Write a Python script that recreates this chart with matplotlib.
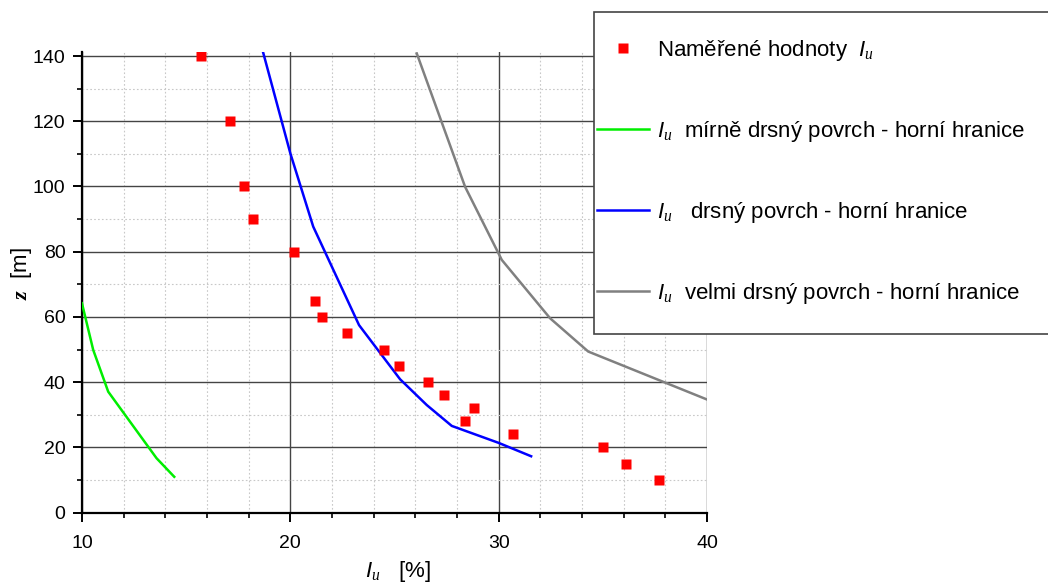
import numpy as np
import matplotlib
matplotlib.use('Agg')
import matplotlib.pyplot as plt
from matplotlib.ticker import MultipleLocator
from matplotlib.patches import Rectangle

plt.rcParams['font.family'] = ['Liberation Sans', 'DejaVu Sans']
plt.rcParams['mathtext.fontset'] = 'custom'
plt.rcParams['mathtext.rm'] = 'Liberation Sans'
plt.rcParams['mathtext.sf'] = 'Liberation Sans:italic'
plt.rcParams['mathtext.it'] = 'Liberation Serif:italic'
plt.rcParams['mathtext.bf'] = 'Liberation Serif:bold:italic'

# measured values
meas_iu = [15.7, 17.1, 17.8, 18.2, 20.2, 21.2, 21.5, 22.7, 24.5, 25.2, 26.6, 27.4, 28.4, 28.8, 30.7, 35.0, 36.1, 37.7]
meas_z = [140, 120, 100, 90, 80, 65, 60, 55, 50, 45, 40, 36, 28, 32, 24, 20, 15, 10]

# upper bounds
mild_iu = [10.0, 10.54, 11.26, 13.58, 14.43]
mild_z = [64.2, 49.9, 37.1, 16.7, 11.0]

rough_iu = [18.7, 20.0, 21.1, 23.3, 25.27, 26.55, 27.75, 30.0, 31.56]
rough_z = [141, 110.2, 87.7, 57.5, 40.9, 33.0, 26.6, 21.4, 17.3]

vrough_iu = [26.07, 28.39, 30.15, 32.47, 34.3, 40.0]
vrough_z = [140.8, 99.9, 77.5, 59.6, 49.4, 34.7]

IU = r'$\mathsf{I}_{u}$'
labels = ['Naměřené hodnoty  ' + IU,
          IU + '  mírně drsný povrch - horní hranice',
          IU + '   drsný povrch - horní hranice',
          IU + '  velmi drsný povrch - horní hranice']

fig = plt.figure(figsize=(10.48, 5.82), dpi=100)
ax = fig.add_axes([0.0782, 0.1191, 0.5964, 0.7914])

p0, = ax.plot(meas_iu, meas_z, 's', color='#ff0000', ms=7.5, mec='none', zorder=4)
p1, = ax.plot(mild_iu, mild_z, color='#00ee00', lw=1.8, zorder=3)
p2, = ax.plot(rough_iu, rough_z, color='#0000ff', lw=1.8, zorder=3)
p3, = ax.plot(vrough_iu, vrough_z, color='#808080', lw=1.8, zorder=3)

ax.set_xlim(10, 40)
ax.set_ylim(0, 141.2)
ax.xaxis.set_major_locator(MultipleLocator(10))
ax.xaxis.set_minor_locator(MultipleLocator(2))
ax.yaxis.set_major_locator(MultipleLocator(20))
ax.yaxis.set_minor_locator(MultipleLocator(10))
ax.set_yticks(np.arange(0, 141, 20))

ax.grid(which='major', color='#444444', lw=1.0, ls='-')
ax.grid(which='minor', color='#c8c8c8', lw=0.8, ls=(0, (1.5, 2)))
ax.set_axisbelow(True)

for s in ['top', 'right']:
    ax.spines[s].set_visible(False)
for s in ['left', 'bottom']:
    ax.spines[s].set_linewidth(1.6)
    ax.spines[s].set_color('black')

ax.tick_params(which='major', length=6.8, width=1.4, labelsize=14)
ax.tick_params(axis='x', which='major', pad=9)
ax.tick_params(axis='y', which='major', pad=5)
ax.tick_params(which='minor', length=3.6, width=1.2)

ax.set_xlabel(IU + '   [%]', fontsize=16)
ax.xaxis.set_label_coords(0.505, -0.1)
ax.set_ylabel(r'$\mathbf{z}$  [m]', fontsize=16)
ax.yaxis.set_label_coords(-0.077, 0.52)

# legend box
frame = Rectangle((0.5668, 0.4261), 0.44, 0.5533, transform=fig.transFigure,
                  facecolor='white', edgecolor='#444444', lw=1.2, zorder=6, clip_on=False)
ax.add_artist(frame)
leg = ax.legend([p0, p1, p2, p3], labels, loc='upper left',
                bbox_to_anchor=(597 / 1048, (582 - 38) / 582), bbox_transform=fig.transFigure,
                frameon=False, fontsize=16, borderpad=0, handlelength=2.35,
                handletextpad=0.36, labelspacing=2.52, borderaxespad=0)
leg.set_zorder(7)

fig.savefig('out.png', dpi=100)
